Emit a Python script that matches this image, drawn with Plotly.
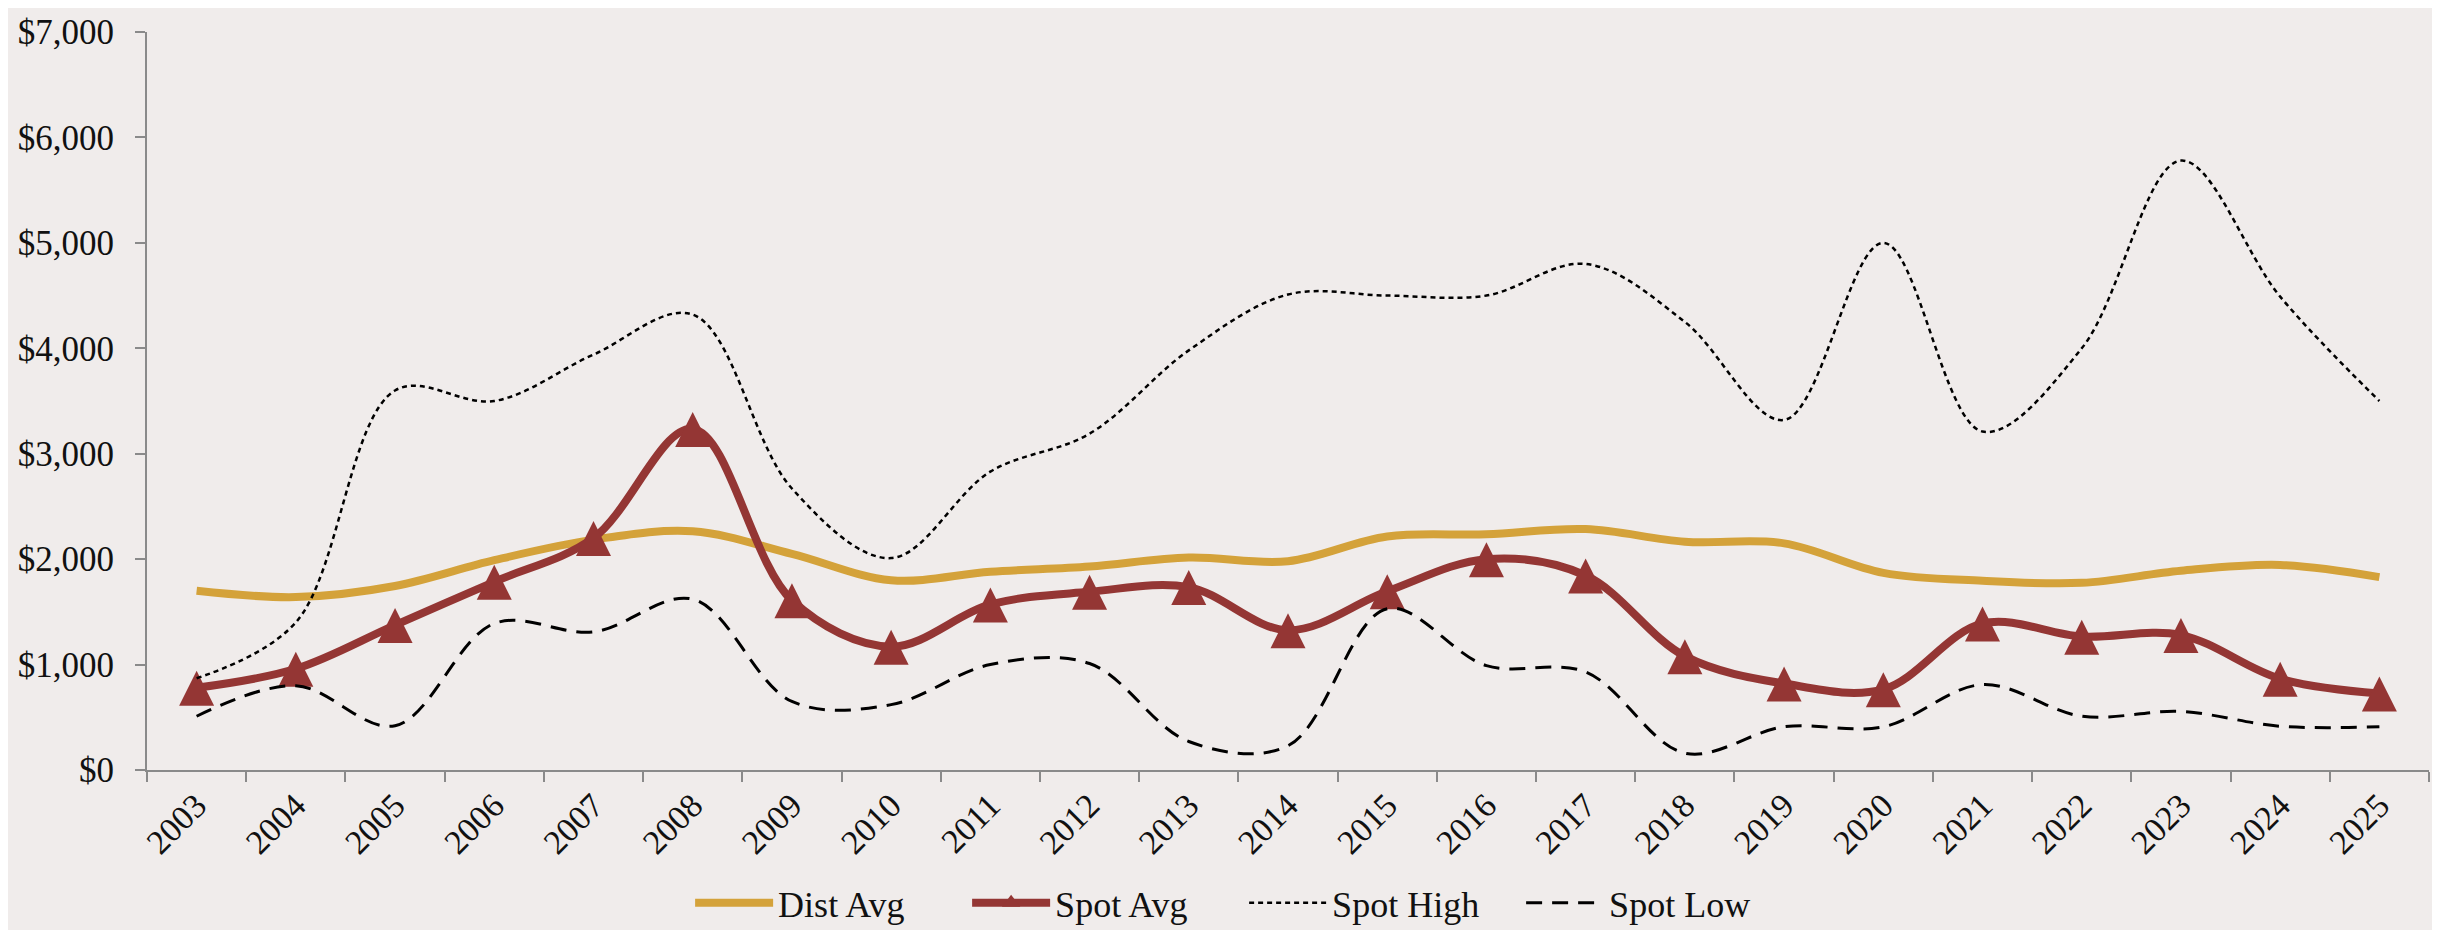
import plotly.graph_objects as go

years = [str(y) for y in range(2003, 2026)]

dist_avg = [1700, 1640, 1745, 1990, 2185, 2265, 2050, 1800, 1880, 1930, 2015, 1980,
            2215, 2235, 2285, 2165, 2150, 1870, 1795, 1775, 1890, 1945, 1830]
spot_avg = [780, 960, 1375, 1785, 2200, 3235, 1610, 1170, 1570, 1690, 1735, 1325,
            1695, 2000, 1845, 1080, 820, 765, 1390, 1265, 1280, 865, 725]
spot_high = [870, 1400, 3600, 3500, 3940, 4320, 2670, 2010, 2830, 3190, 3980, 4510,
             4500, 4500, 4800, 4250, 3320, 5000, 3210, 4000, 5780, 4490, 3500]
spot_low = [510, 800, 420, 1390, 1310, 1620, 650, 620, 1000, 1010, 270, 230,
            1530, 990, 930, 160, 410, 410, 810, 510, 555, 415, 410]

y_ticks = [0, 1000, 2000, 3000, 4000, 5000, 6000, 7000]
y_ticktext = ["$" + format(v, ",") for v in y_ticks]

GOLD = "#D4A23A"
MAROON = "#943634"
BG = "#F0ECEB"
AXIS = "#8A8A8A"
FONT = "Liberation Serif"

fig = go.Figure()
fig.add_trace(go.Scatter(
    x=years, y=dist_avg, name="Dist Avg", mode="lines",
    line=dict(color=GOLD, width=8, shape="spline", smoothing=1.0),
))
fig.add_trace(go.Scatter(
    x=years, y=spot_avg, name="Spot Avg", mode="lines+markers", showlegend=False,
    line=dict(color=MAROON, width=8, shape="spline", smoothing=1.0),
    marker=dict(symbol="arrow-down", angle=180, size=35, color=MAROON, standoff=17,
                line=dict(width=0)),
))
# legend entry for Spot Avg (centred triangle on the swatch)
fig.add_trace(go.Scatter(
    x=[None], y=[None], name="Spot Avg", mode="lines+markers",
    line=dict(color=MAROON, width=8),
    marker=dict(symbol="triangle-up", size=24, color=MAROON, line=dict(width=0)),
))
fig.add_trace(go.Scatter(
    x=years, y=spot_high, name="Spot High", mode="lines",
    line=dict(color="#000000", width=2.5, dash="5px,4px", shape="spline", smoothing=1.0),
))
fig.add_trace(go.Scatter(
    x=years, y=spot_low, name="Spot Low", mode="lines",
    line=dict(color="#000000", width=3, dash="16px,10px", shape="spline", smoothing=1.0),
))

fig.update_layout(
    width=2440, height=930,
    paper_bgcolor=BG, plot_bgcolor=BG,
    margin=dict(l=139, r=19, t=24, b=168, autoexpand=False),
    font=dict(family=FONT, size=34, color="#111111"),
    showlegend=True,
    legend=dict(
        orientation="h", xref="paper", x=0.238, xanchor="left",
        y=-0.18, yanchor="middle",
        font=dict(family=FONT, size=36, color="#111111"),
        itemwidth=78, entrywidth=184, bgcolor="rgba(0,0,0,0)",
    ),
    xaxis=dict(
        type="category", range=[-0.5, 22.5],
        showline=True, linecolor=AXIS, linewidth=2,
        ticks="outside", tickson="boundaries", ticklen=10, tickcolor=AXIS, tickwidth=2,
        tickangle=-45, showgrid=False, zeroline=False,
        tickfont=dict(family=FONT, size=34),
    ),
    yaxis=dict(
        range=[0, 7000], tickvals=y_ticks, ticktext=y_ticktext,
        showline=True, linecolor=AXIS, linewidth=2,
        ticks="outside", ticklen=10, tickcolor=AXIS, tickwidth=2,
        ticklabelstandoff=14,
        showgrid=False, zeroline=False,
        tickfont=dict(family=FONT, size=35),
    ),
)

fig.write_html("out.html")
